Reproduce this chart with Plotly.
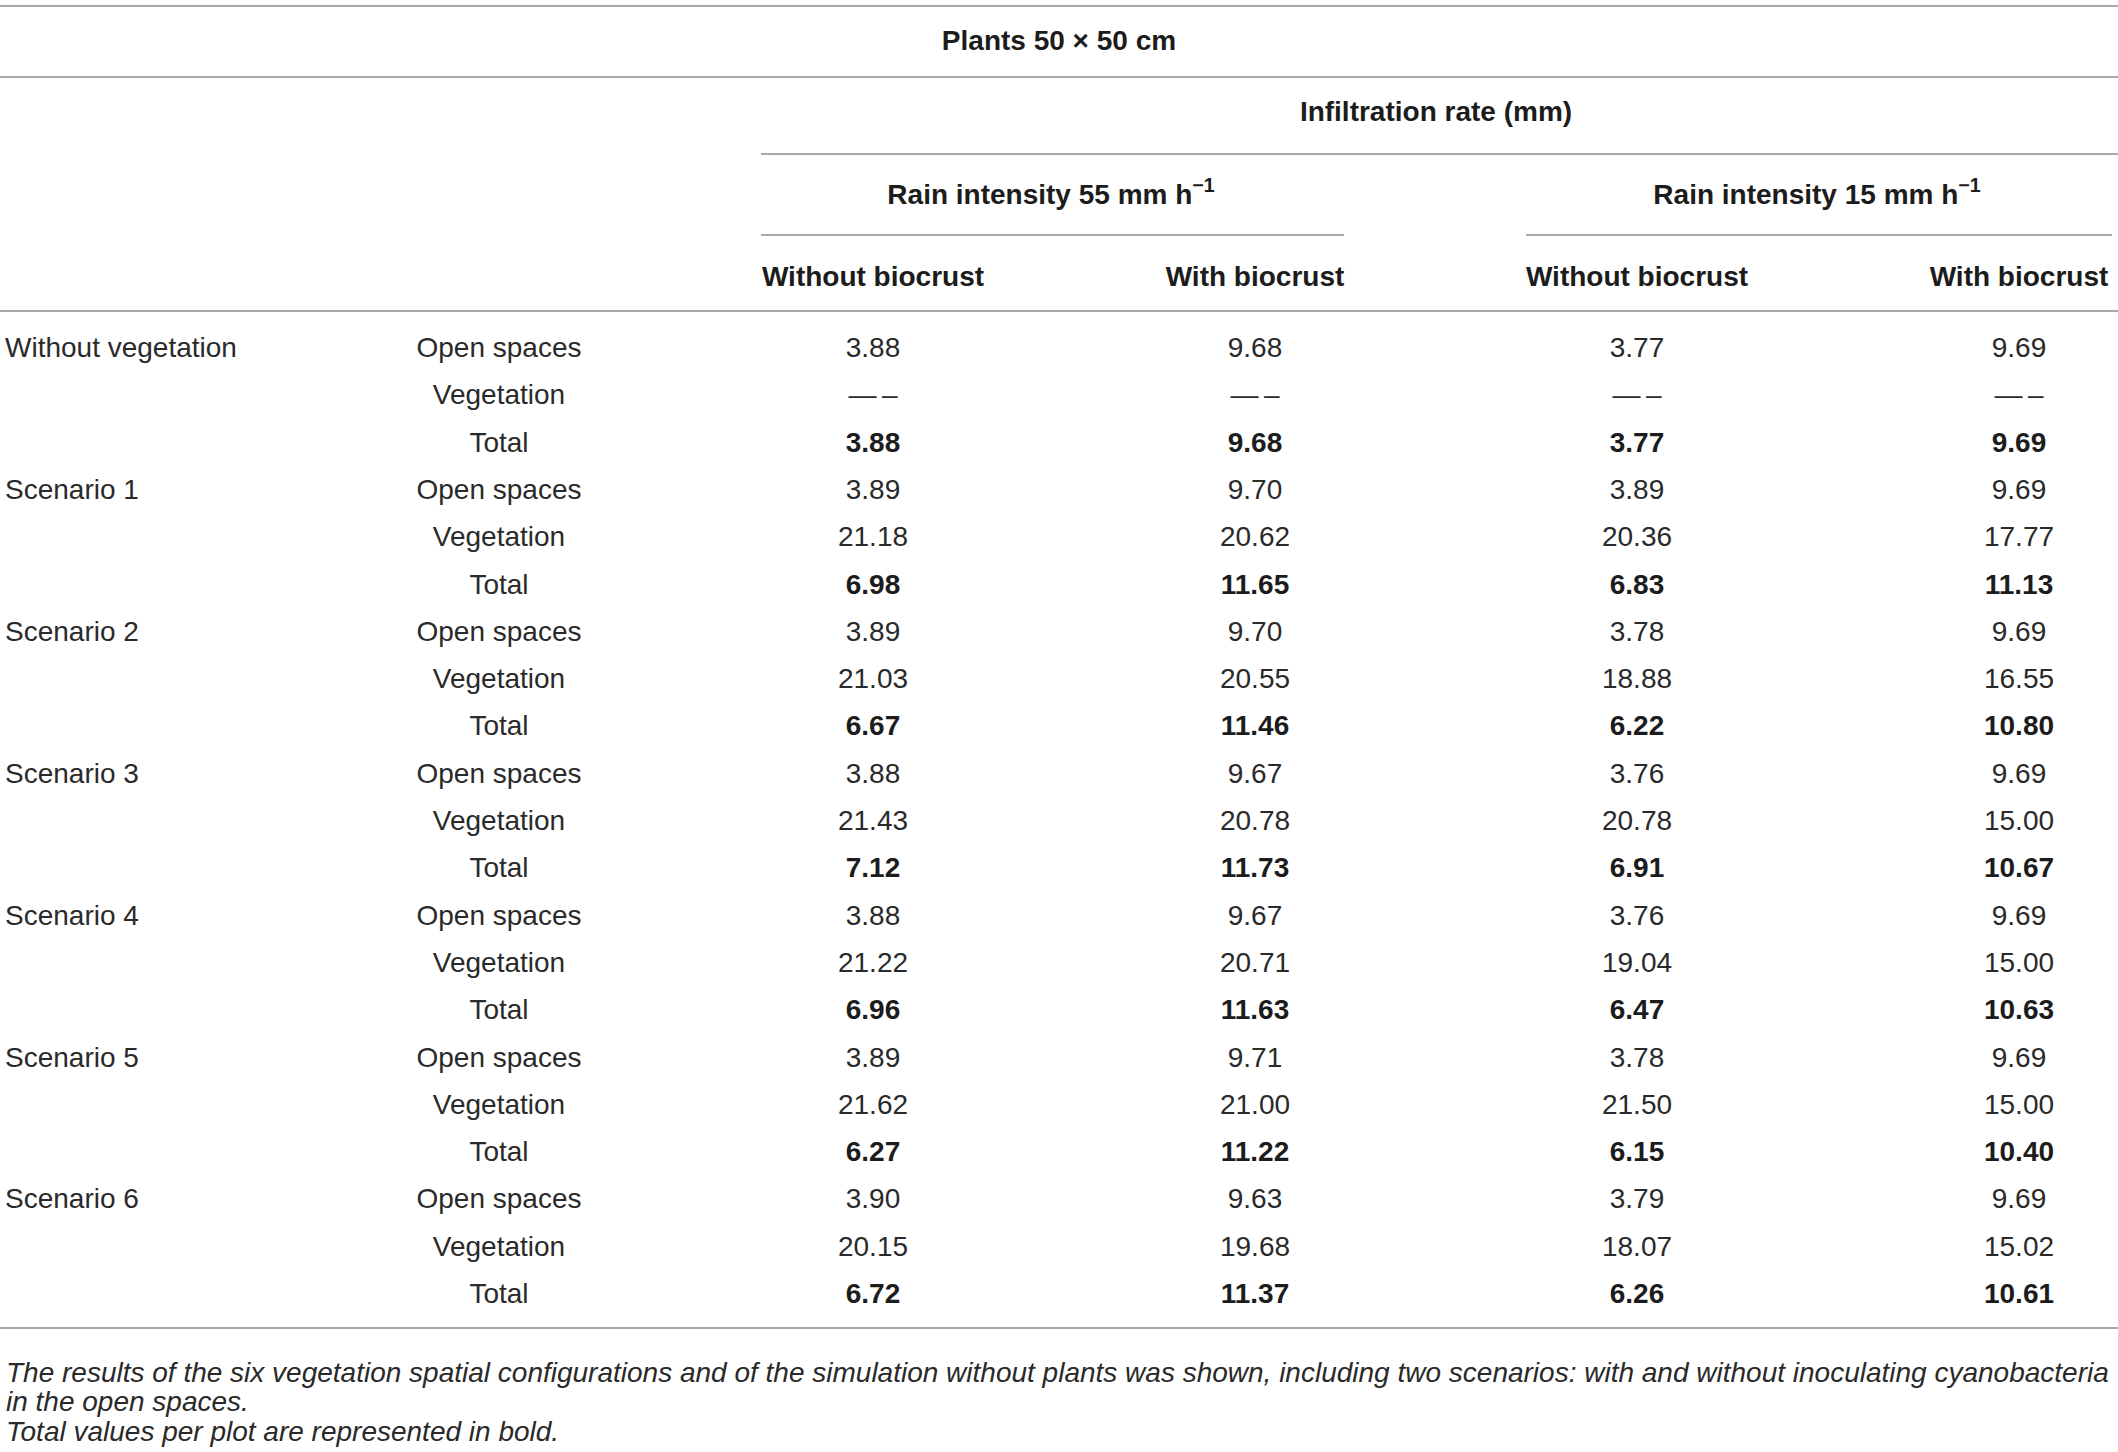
import plotly.graph_objects as go

# ---------------- data ----------------
title = "Plants 50 × 50 cm"
measure = "Infiltration rate (mm)"
rain_groups = ["Rain intensity 55 mm h<sup>−1</sup>", "Rain intensity 15 mm h<sup>−1</sup>"]
col_labels = ["Without biocrust", "With biocrust", "Without biocrust", "With biocrust"]
groups = ["Without vegetation", "Scenario 1", "Scenario 2", "Scenario 3",
          "Scenario 4", "Scenario 5", "Scenario 6"]
sub_rows = ["Open spaces", "Vegetation", "Total"]

open_spaces = [
    [3.88, 9.68, 3.77, 9.69],
    [3.89, 9.70, 3.89, 9.69],
    [3.89, 9.70, 3.78, 9.69],
    [3.88, 9.67, 3.76, 9.69],
    [3.88, 9.67, 3.76, 9.69],
    [3.89, 9.71, 3.78, 9.69],
    [3.90, 9.63, 3.79, 9.69],
]
vegetation = [
    [None, None, None, None],
    [21.18, 20.62, 20.36, 17.77],
    [21.03, 20.55, 18.88, 16.55],
    [21.43, 20.78, 20.78, 15.00],
    [21.22, 20.71, 19.04, 15.00],
    [21.62, 21.00, 21.50, 15.00],
    [20.15, 19.68, 18.07, 15.02],
]
total = [
    [3.88, 9.68, 3.77, 9.69],
    [6.98, 11.65, 6.83, 11.13],
    [6.67, 11.46, 6.22, 10.80],
    [7.12, 11.73, 6.91, 10.67],
    [6.96, 11.63, 6.47, 10.63],
    [6.27, 11.22, 6.15, 10.40],
    [6.72, 11.37, 6.26, 10.61],
]
missing = "—\u2009–"
footnote = [
    "The results of the six vegetation spatial configurations and of the simulation without plants was shown, including two scenarios: with and without inoculating cyanobacteria",
    "in the open spaces.",
    "Total values per plot are represented in bold.",
]

# ---------------- layout constants ----------------
W, H = 2118, 1452
FONT = "Liberation Sans, Arial, Helvetica, sans-serif"
FS = 28
TXT = "#2a2a2a"
BOLD = "#1c1c1c"
LINE = "#a8a8a8"
COL_X = [873, 1255, 1637, 2019]
GROUP_X = [1051, 1817]
LABEL_X = 5
SUB_X = 499
ROW0 = 350
ROW_H = 47.3

fig = go.Figure()

def text_trace(xs, ys, texts, pos="middle center", weight="normal", color=TXT, size=FS, style="normal"):
    fig.add_trace(go.Scatter(
        x=xs, y=ys, text=texts, mode="text", textposition=pos,
        textfont=dict(family=FONT, size=size, color=color, weight=weight, style=style),
        hoverinfo="skip", showlegend=False, cliponaxis=False))

# header
text_trace([1059], [43], [title], weight="bold", color=BOLD)
text_trace([1436], [114], [measure], weight="bold", color=BOLD)
text_trace(GROUP_X, [197, 197], rain_groups, weight="bold", color=BOLD)
text_trace(COL_X, [279] * 4, col_labels, weight="bold", color=BOLD)

# row labels and cells
gx, gy, gt = [], [], []
sx, sy, st = [], [], []
vx, vy, vt = [], [], []
bx, by, bt = [], [], []
for gi, g in enumerate(groups):
    base = gi * 3
    gx.append(LABEL_X); gy.append(ROW0 + base * ROW_H); gt.append(g)
    for si, s in enumerate(sub_rows):
        sx.append(SUB_X); sy.append(ROW0 + (base + si) * ROW_H); st.append(s)
    for ci in range(4):
        for si, arr in enumerate([open_spaces, vegetation]):
            v = arr[gi][ci]
            vx.append(COL_X[ci]); vy.append(ROW0 + (base + si) * ROW_H)
            vt.append(missing if v is None else f"{v:.2f}")
        bx.append(COL_X[ci]); by.append(ROW0 + (base + 2) * ROW_H)
        bt.append(f"{total[gi][ci]:.2f}")

text_trace(gx, gy, gt, pos="middle right")
text_trace(sx, sy, st)
text_trace(vx, vy, vt)
text_trace(bx, by, bt, weight="bold", color=BOLD)

# footnote
text_trace([6, 6, 6], [1375, 1404, 1434], footnote, pos="middle right", size=28, style="italic")

# rules
shapes = []
def hline(x0, x1, y, w=2):
    shapes.append(dict(type="line", xref="x", yref="y", x0=x0, x1=x1, y0=y, y1=y,
                       line=dict(color=LINE, width=w)))
hline(0, W, 6)
hline(0, W, 77)
hline(761, W, 154)
hline(761, 1344, 235)
hline(1526, 2112, 235)
hline(0, W, 311)
hline(0, W, 1328)

fig.update_layout(
    width=W, height=H, margin=dict(l=0, r=0, t=0, b=0),
    paper_bgcolor="white", plot_bgcolor="white",
    xaxis=dict(range=[0, W], visible=False, fixedrange=True),
    yaxis=dict(range=[H, 0], visible=False, fixedrange=True),
    shapes=shapes,
)
fig.write_html("out.html", config={"displayModeBar": False},
               post_script="document.body.style.margin='0';document.body.style.overflow='hidden';")
